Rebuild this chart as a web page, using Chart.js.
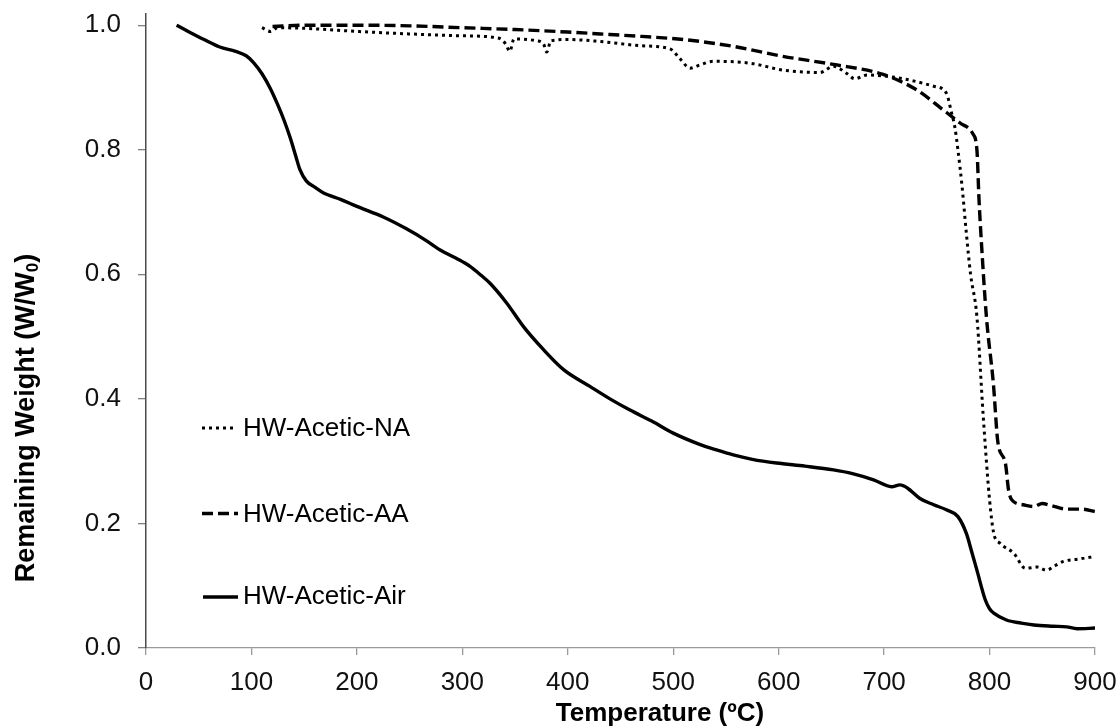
<!DOCTYPE html>
<html>
<head>
<meta charset="utf-8">
<title>TGA – HW-Acetic</title>
<script src="https://cdn.jsdelivr.net/npm/chart.js@4/dist/chart.umd.min.js"></script>
<style>
  html, body { margin: 0; padding: 0; background: #fff; }
  #wrap { width: 1119px; height: 728px; }
</style>
</head>
<body>
<div id="wrap"><canvas id="tga" width="1119" height="728"></canvas></div>
<script>
// ------------------------------------------------------------
// Remaining weight vs temperature, three samples
// ------------------------------------------------------------
const xTickValues = [0, 100, 200, 300, 400, 500, 600, 700, 800, 900];
const yTickValues = [0, 0.2, 0.4, 0.6, 0.8, 1.0];

const seriesLabels = ['HW-Acetic-NA', 'HW-Acetic-AA', 'HW-Acetic-Air'];

// HW-Acetic-NA (dotted)
const tempNA = [110, 118, 125, 150, 200, 250, 300, 335, 341, 345, 349, 370, 377, 380, 384, 400, 430, 470, 497, 506,
  516, 525, 538, 573, 604, 639, 652, 665, 672, 684, 715, 747, 759, 764, 767, 770, 774, 778, 782, 788,
  794, 800, 804, 810, 823, 834, 845, 854, 862, 870, 885, 900];
const weightNA = [0.996, 0.990, 0.996, 0.995, 0.990, 0.986, 0.983, 0.979, 0.970, 0.958, 0.978, 0.975, 0.970, 0.957, 0.975, 0.977, 0.974, 0.967, 0.962, 0.947,
  0.931, 0.936, 0.942, 0.939, 0.928, 0.924, 0.934, 0.922, 0.914, 0.920, 0.915, 0.902, 0.891, 0.859, 0.837, 0.800, 0.740, 0.666, 0.600, 0.532,
  0.372, 0.238, 0.184, 0.168, 0.152, 0.128, 0.130, 0.125, 0.132, 0.139, 0.143, 0.147];

// HW-Acetic-AA (dashed)
const tempAA = [120, 150, 200, 250, 300, 350, 400, 431, 470, 510, 557, 604, 652, 699, 731, 756, 772, 784, 788, 790,
  792.5, 797, 803.6, 808, 815, 818, 821, 832, 842, 850, 858, 873, 888, 900];
const weightAA = [0.998, 1.000, 1.000, 0.999, 0.996, 0.993, 0.989, 0.986, 0.982, 0.977, 0.966, 0.950, 0.937, 0.921, 0.896, 0.864, 0.843, 0.826, 0.800, 0.720,
  0.645, 0.532, 0.425, 0.329, 0.297, 0.254, 0.238, 0.230, 0.227, 0.232, 0.229, 0.223, 0.223, 0.219];

// HW-Acetic-Air (solid)
const tempAir = [29, 40, 55, 70, 85, 95, 102, 110, 118, 125, 131, 137, 142, 146, 152, 160, 168, 185, 200, 225,
  247, 265, 279, 295, 307, 318, 326, 342, 358, 377, 396, 421, 440, 459, 480, 500, 525, 541, 557, 575,
  598, 625, 652, 670, 690, 707, 715, 722, 734, 747, 759, 770, 778, 783, 788, 796, 800, 804, 816, 830,
  842, 860, 873, 883, 900];
const weightAir = [1.000, 0.990, 0.977, 0.965, 0.958, 0.951, 0.940, 0.922, 0.898, 0.872, 0.847, 0.818, 0.790, 0.768, 0.750, 0.740, 0.731, 0.720, 0.709, 0.692,
  0.673, 0.655, 0.639, 0.625, 0.613, 0.598, 0.586, 0.554, 0.516, 0.479, 0.447, 0.420, 0.400, 0.382, 0.364, 0.345, 0.327, 0.318, 0.310, 0.303,
  0.297, 0.292, 0.286, 0.280, 0.270, 0.259, 0.262, 0.257, 0.240, 0.230, 0.222, 0.211, 0.184, 0.155, 0.125, 0.077, 0.063, 0.056, 0.045, 0.040,
  0.037, 0.035, 0.034, 0.031, 0.032];

const FONT = '"Liberation Sans", Arial, Helvetica, sans-serif';

function pts(xs, ys) {
  return xs.map((x, i) => ({ x, y: ys[i] }));
}

// line styles, shared by the plotted series and the legend keys
const styles = [
  { width: 3.0, dash: [3, 4] },
  { width: 3.4, dash: [11, 5] },
  { width: 3.4, dash: [] },
];

// -------------------------------------------------------
// Axis titles (x title sits right of centre, y title has a subscript)
// -------------------------------------------------------
const axisTitles = {
  id: 'axisTitles',
  afterDraw(chart) {
    const ctx = chart.ctx;
    ctx.save();
    ctx.fillStyle = '#000';

    ctx.font = 'bold 26px ' + FONT;
    ctx.textAlign = 'center';
    ctx.textBaseline = 'alphabetic';
    ctx.fillText('Temperature (ºC)', 660, 721);

    // rotated y title
    const main = 'Remaining Weight (W/W';
    const sub = '0';
    const tail = ')';
    ctx.translate(34, 418);
    ctx.rotate(-Math.PI / 2);
    ctx.textAlign = 'left';
    ctx.font = 'bold 27px ' + FONT;
    const wMain = ctx.measureText(main).width;
    const wTail = ctx.measureText(tail).width;
    ctx.font = 'bold 17px ' + FONT;
    const wSub = ctx.measureText(sub).width;
    let x = -(wMain + wSub + wTail) / 2;
    ctx.font = 'bold 27px ' + FONT;
    ctx.fillText(main, x, 0);
    x += wMain;
    ctx.font = 'bold 17px ' + FONT;
    ctx.fillText(sub, x, 4);
    x += wSub;
    ctx.font = 'bold 27px ' + FONT;
    ctx.fillText(tail, x, 0);
    ctx.restore();
  }
};

// -------------------------------------------------------
// Legend inside the plot, stacked on the left
// -------------------------------------------------------
const legendRows = [
  { lineY: 428, baseY: 436, x0: 202, x1: 234 },
  { lineY: 513.5, baseY: 522, x0: 202, x1: 238 },
  { lineY: 597, baseY: 604, x0: 203, x1: 238 },
];

const insideLegend = {
  id: 'insideLegend',
  afterDraw(chart) {
    const ctx = chart.ctx;
    ctx.save();
    legendRows.forEach((row, i) => {
      const st = styles[i];
      ctx.beginPath();
      ctx.strokeStyle = '#000';
      ctx.lineWidth = st.width;
      ctx.setLineDash(st.dash);
      ctx.moveTo(row.x0, row.lineY);
      ctx.lineTo(row.x1, row.lineY);
      ctx.stroke();
      ctx.setLineDash([]);
      ctx.font = '26px ' + FONT;
      ctx.fillStyle = '#000';
      ctx.textAlign = 'left';
      ctx.textBaseline = 'alphabetic';
      ctx.fillText(seriesLabels[i], 243, row.baseY);
    });
    ctx.restore();
  }
};

const series = [pts(tempNA, weightNA), pts(tempAA, weightAA), pts(tempAir, weightAir)];

new Chart(document.getElementById('tga'), {
  type: 'line',
  data: {
    datasets: series.map((d, i) => ({
      label: seriesLabels[i],
      data: d,
      borderColor: '#000',
      borderWidth: styles[i].width,
      borderDash: styles[i].dash,
      pointRadius: 0,
      fill: false,
      cubicInterpolationMode: 'monotone',
    })),
  },
  options: {
    responsive: false,
    animation: false,
    layout: { padding: { left: 0, right: 24, top: 14, bottom: 0 } },
    plugins: {
      legend: { display: false },
      tooltip: { enabled: false },
    },
    scales: {
      x: {
        type: 'linear',
        min: 0,
        max: 900,
        afterBuildTicks: s => { s.ticks = xTickValues.map(v => ({ value: v })); },
        afterFit: s => { s.height = 80; s.paddingLeft = 0; s.paddingRight = 0; },
        border: { display: true, color: '#9a9a9a', width: 1.3 },
        grid: { drawOnChartArea: false, drawTicks: true, tickLength: 7, color: '#9a9a9a', lineWidth: 1.3 },
        ticks: { color: '#111', padding: 12, font: { family: FONT, size: 26 }, maxRotation: 0 },
      },
      y: {
        type: 'linear',
        min: 0,
        max: 1.018,
        afterBuildTicks: s => { s.ticks = yTickValues.map(v => ({ value: v })); },
        afterFit: s => { s.width = 146; s.paddingTop = 0; s.paddingBottom = 0; },
        border: { display: true, color: '#4a4a4a', width: 1.5 },
        grid: { drawOnChartArea: false, drawTicks: true, tickLength: 8, color: '#808080', lineWidth: 1.3 },
        ticks: { color: '#111', padding: 17, font: { family: FONT, size: 26 }, callback: v => v.toFixed(1) },
      },
    },
  },
  plugins: [axisTitles, insideLegend],
});
</script>
</body>
</html>
